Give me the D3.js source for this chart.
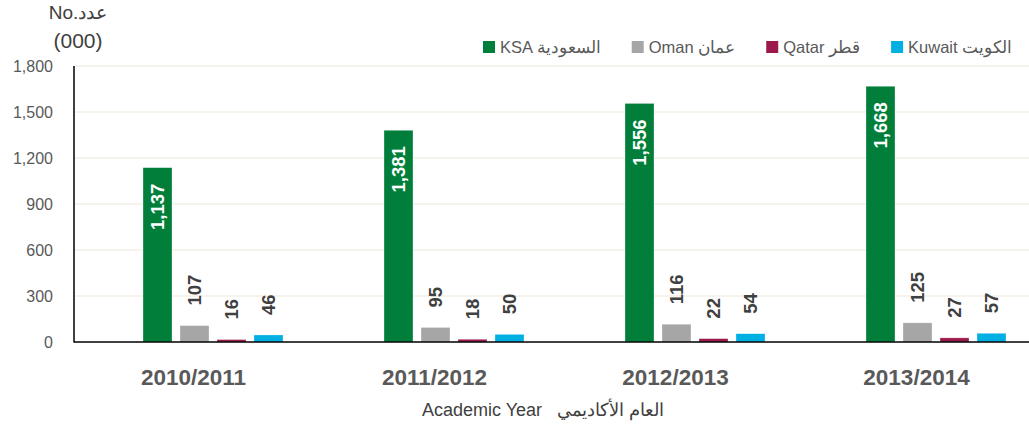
<!DOCTYPE html>
<html><head><meta charset="utf-8">
<script src="https://cdn.jsdelivr.net/npm/d3@7"></script>
<style>
html,body{margin:0;padding:0;background:#fff;}
svg{display:block;font-family:"Liberation Sans",Arial,sans-serif;}
</style></head>
<body><svg id="c" width="1029" height="429"></svg>
<script>
const categories = ["2010/2011","2011/2012","2012/2013","2013/2014"];
const seriesNames = ["KSA","Oman","Qatar","Kuwait"];
const seriesLegend = ["KSA السعودية","Oman عمان","Qatar قطر","Kuwait الكويت"];
const seriesColors = ["#017F3A","#A6A6A6","#9B1A4B","#00B0E2"];
const ksa = [1137,1381,1556,1668];
const oman = [107,95,116,125];
const qatar = [16,18,22,27];
const kuwait = [46,50,54,57];
const yTicks = [0,300,600,900,1200,1500,1800];
const insideSeries = ["KSA"];

const values = [ksa, oman, qatar, kuwait];
const svg = d3.select("#c");
const plotLeft = 74, plotBottom = 342, plotTop = 66, band = 241;

const x = d3.scaleBand().domain(categories).range([plotLeft, plotLeft + band*categories.length]).padding(0);
const xi = d3.scaleBand().domain(seriesNames).range([69, 209]).paddingInner(8/37).paddingOuter(0);
const y = d3.scaleLinear().domain([0,1800]).range([plotBottom, plotTop]);

// gridlines
svg.append("g").selectAll("line").data(yTicks.filter(t=>t>0)).join("line")
  .attr("x1", plotLeft).attr("x2", 1029)
  .attr("y1", d=>y(d)).attr("y2", d=>y(d))
  .attr("stroke", "#EDE8DC").attr("stroke-width", 1.2);

// y tick labels
const yAxis = d3.axisLeft(y).tickValues(yTicks).tickFormat(d3.format(",")).tickSize(0).tickPadding(0);
const gy = svg.append("g").attr("transform", `translate(53,0)`).call(yAxis);
gy.select(".domain").remove();
gy.selectAll("text").attr("font-size", 16).attr("fill", "#595959")
  .attr("font-family", "Liberation Sans, Arial, sans-serif").attr("dy", "0.36em");

// bars
const rows = [];
categories.forEach((c,ci)=> seriesNames.forEach((s,si)=> rows.push({c, s, si, v: values[si][ci]})));
const g = svg.append("g");
g.selectAll("rect").data(rows).join("rect")
  .attr("x", d=>x(d.c)+xi(d.s))
  .attr("width", xi.bandwidth())
  .attr("y", d=>y(d.v))
  .attr("height", d=>y(0)-y(d.v))
  .attr("fill", d=>seriesColors[d.si])
  .attr("stroke", "#ffffff").attr("stroke-opacity", 0.5).attr("stroke-width", 0.6);

// value labels
g.selectAll("text").data(rows).join("text")
  .attr("transform", d=>{
    const cx = x(d.c)+xi(d.s)+xi.bandwidth()/2;
    const inside = insideSeries.includes(d.s);
    const yy = inside ? y(d.v)+16 : y(d.v)-20;
    return `translate(${cx},${yy}) rotate(-90)`;
  })
  .attr("text-anchor", d=>insideSeries.includes(d.s) ? "end" : "start")
  .attr("dy", "0.36em")
  .attr("font-size", 18.5).attr("font-weight", "bold")
  .attr("fill", d=>insideSeries.includes(d.s) ? "#ffffff" : "#404040")
  .text(d=>d3.format(",")(d.v));

// axes lines
svg.append("line").attr("x1", plotLeft).attr("x2", plotLeft).attr("y1", plotTop).attr("y2", plotBottom+0.5)
  .attr("stroke", "#000").attr("stroke-width", 1.5);
svg.append("line").attr("x1", plotLeft).attr("x2", 1029).attr("y1", plotBottom).attr("y2", plotBottom)
  .attr("stroke", "#000").attr("stroke-width", 1.5);

// category labels
const xAxis = d3.axisBottom(x).tickSize(0).tickPadding(0);
const gx = svg.append("g").attr("transform", `translate(0,385)`).call(xAxis);
gx.select(".domain").remove();
gx.selectAll("text").attr("font-size", 22.5).attr("font-weight", "bold").attr("fill", "#595959")
  .attr("font-family", "Liberation Sans, Arial, sans-serif").attr("dy", 0).attr("y", 0)
  .attr("transform", "translate(-1,0)");

// axis title
svg.append("text").attr("x", 543).attr("y", 416).attr("text-anchor", "middle")
  .attr("font-size", 18).attr("fill", "#404040").attr("direction", "ltr")
  .attr("xml:space", "preserve").style("white-space", "pre")
  .text("Academic Year   العام الأكاديمي");

// y title
svg.append("text").attr("x", 78).attr("y", 19).attr("text-anchor", "middle")
  .attr("font-size", 19).attr("fill", "#404040").text("No.عدد");
svg.append("text").attr("x", 78).attr("y", 48).attr("text-anchor", "middle")
  .attr("font-size", 21).attr("fill", "#404040").text("(000)");

// legend
const lg = svg.append("g");
let lx = 483;
seriesLegend.forEach((t,i)=>{
  lg.append("rect").attr("x", lx).attr("y", 41).attr("width", 12).attr("height", 12).attr("fill", seriesColors[i]);
  const tx = lg.append("text").attr("x", lx+17).attr("y", 53).attr("font-size", 16.5)
    .attr("fill", "#595959").text(t);
  lx = lx + 17 + tx.node().getComputedTextLength() + 31;
});
</script></body></html>
